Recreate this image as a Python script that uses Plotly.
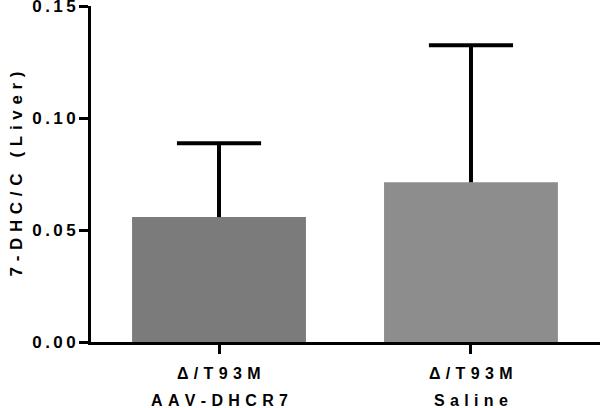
import plotly.graph_objects as go

categories_line1 = ["Δ/T93M", "Δ/T93M"]
categories_line2 = ["AAV-DHCR7", "Saline"]
means = [0.0558, 0.0714]
errors = [0.0330, 0.0612]
bar_colors = ["#7b7b7b", "#8d8d8d"]
y_ticks = [0.00, 0.05, 0.10, 0.15]
y_tick_labels = ["0.00", "0.05", "0.10", "0.15"]
y_title = "7-DHC/C (Liver)"

THIN = "\u2009"
WIDE = "\u2004"
CAP_HALF = 0.167  # half cap width in category units


def spaced(s, sp):
    return sp.join(list(s))


FONT = "Liberation Sans, Arial, sans-serif"

x = [0, 1]
fig = go.Figure()
fig.add_trace(go.Bar(
    x=x, y=means,
    marker=dict(color=bar_colors, line=dict(width=0)),
    width=0.69,
))

# upper-only error bars (GraphPad style) built from means/errors
ex, ey = [], []
for xi, m, e in zip(x, means, errors):
    ex += [xi, xi, None, xi - CAP_HALF, xi + CAP_HALF, None]
    ey += [m, m + e, None, m + e, m + e, None]
fig.add_trace(go.Scatter(x=ex, y=ey, mode="lines",
                         line=dict(color="black", width=4),
                         hoverinfo="skip"))

annotations = []
for xi, l1, l2 in zip(x, categories_line1, categories_line2):
    annotations.append(dict(x=xi, xref="x", y=0, yref="paper", yanchor="middle",
                            yshift=-31, text="<b>" + spaced(l1, WIDE) + "</b>",
                            showarrow=False, font=dict(family=FONT, size=16, color="black")))
    annotations.append(dict(x=xi, xref="x", y=0, yref="paper", yanchor="middle",
                            yshift=-58, text="<b>" + spaced(l2, WIDE) + "</b>",
                            showarrow=False, font=dict(family=FONT, size=16, color="black")))

fig.update_layout(
    width=600, height=408,
    margin=dict(l=91, r=0, t=6, b=66),
    paper_bgcolor="white", plot_bgcolor="white",
    showlegend=False,
    annotations=annotations,
    xaxis=dict(range=[-0.508, 1.512], tickvals=x, ticktext=["", ""],
               showline=True, linecolor="black", linewidth=3,
               ticks="outside", ticklen=9, tickwidth=3, tickcolor="black",
               showgrid=False, zeroline=False, fixedrange=True, automargin=False),
    yaxis=dict(range=[0, 0.1501], tickvals=y_ticks,
               ticktext=["<b>" + spaced(t, THIN) + "</b>" for t in y_tick_labels],
               tickfont=dict(family=FONT, size=17, color="black"),
               ticklabeloverflow="allow",
               showline=True, linecolor="black", linewidth=3,
               ticks="outside", ticklen=9, tickwidth=3, tickcolor="black",
               showgrid=False, zeroline=False, automargin=False, fixedrange=True,
               title=dict(text="<b>" + spaced(y_title, WIDE) + "</b>",
                          font=dict(family=FONT, size=17, color="black"),
                          standoff=6)),
)

fig.write_html("out.html", config={"displayModeBar": False},
               post_script="document.body.style.margin='0';document.body.style.overflow='hidden';")
